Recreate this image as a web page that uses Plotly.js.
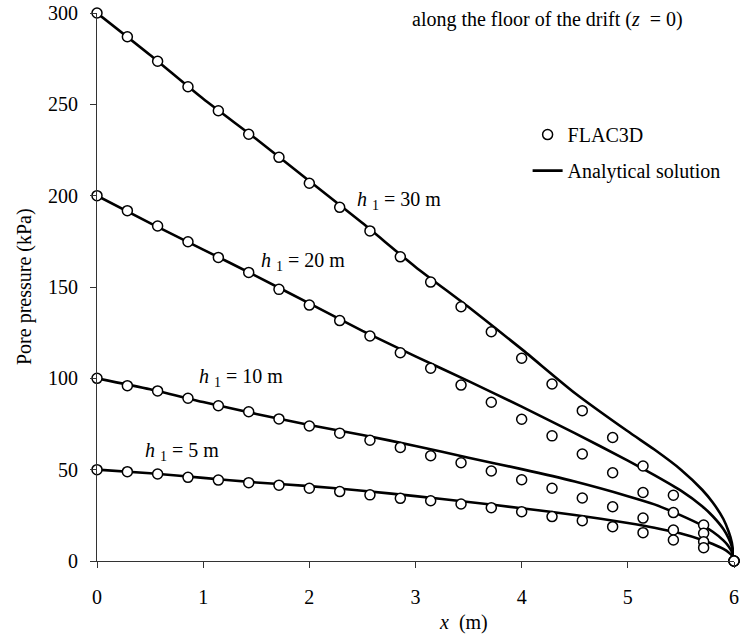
<!DOCTYPE html>
<html>
<head>
<meta charset="utf-8">
<script src="https://cdn.plot.ly/plotly-3.0.1.min.js"></script>
<style>html,body{margin:0;padding:0;background:#fff;}#chart{width:741px;height:636px;}</style>
</head>
<body>
<div id="chart"></div>
<script>
// FLAC3D sample positions (m)
var xFlac = [0, 0.286, 0.571, 0.857, 1.143, 1.429, 1.714, 2.0, 2.286, 2.571, 2.857,
             3.143, 3.429, 3.714, 4.0, 4.286, 4.571, 4.857, 5.143, 5.429, 5.714, 6.0];
// FLAC3D pore pressure (kPa)
var flacH30 = [300, 287, 273.6, 259.6, 246.5, 233.6, 221, 206.8, 193.6, 180.7, 166.5,
               152.7, 139.2, 125.5, 111, 96.9, 82.3, 67.6, 52, 36, 19.7, 0];
var flacH20 = [200, 191.8, 183.4, 174.8, 166.2, 158, 148.7, 140.1, 131.6, 123.2, 114,
               105.5, 96.3, 86.9, 77.6, 68.5, 58.6, 48.3, 37.5, 26.5, 15.2, 0];
var flacH10 = [100, 96, 93.1, 89.1, 85, 81.7, 77.8, 73.9, 70, 66.1, 62.2,
               57.6, 53.8, 49.3, 44.5, 39.8, 34.5, 29.7, 23.5, 17, 10.6, 0];
var flacH5  = [50, 48.9, 47.6, 45.8, 44.3, 42.9, 41.5, 39.8, 38, 36.2, 34.3,
               33, 31.2, 29.2, 27, 24.3, 22.1, 18.8, 15.5, 11.5, 7.3, 0];

// Analytical solution read positions (m)
var xAna = [0, 0.5, 1, 1.5, 2, 2.5, 3, 3.5, 4, 4.5, 5, 5.25, 5.5, 5.7, 5.8, 5.9, 5.95, 5.98, 6];
var anaH30 = [300, 277, 253, 231, 208, 185, 161, 139, 116, 92, 71, 61, 50, 39, 32, 23, 16, 10, 0];
var anaH20 = [200, 185, 170.5, 156, 141, 126, 112, 98.5, 84.5, 70, 55, 47, 38.5, 30, 24.5, 17.5, 12.3, 7.8, 0];
var anaH10 = [100, 94, 87, 80.5, 74.5, 69, 63, 56.5, 50.3, 43.5, 35.5, 31, 25, 19.5, 16, 11.3, 8, 5, 0];
var anaH5  = [50, 48, 45.5, 43, 41, 38.5, 35.5, 32.3, 28.9, 25.2, 20.8, 18.2, 15, 11.5, 9.3, 6.6, 4.7, 3, 0];

var xTicks = [0, 1, 2, 3, 4, 5, 6];
var yTicks = [0, 50, 100, 150, 200, 250, 300];
var curveLabels = ['<i>h</i> <sub>1</sub> = 30 m', '<i>h</i> <sub>1</sub> = 20 m',
                   '<i>h</i> <sub>1</sub> = 10 m', '<i>h</i> <sub>1</sub> = 5 m'];

var FONT = '"Liberation Serif", "Times New Roman", serif';

var anaSets = [anaH30, anaH20, anaH10, anaH5];
var flacSets = [flacH30, flacH20, flacH10, flacH5];
var traces = [];
anaSets.forEach(function (ys, k) {
  traces.push({
    x: xAna, y: ys, type: 'scatter', mode: 'lines',
    line: {color: '#000', width: 2.6, shape: 'spline', smoothing: 0.6},
    name: 'Analytical solution', legendgroup: 'ana', legendrank: 2,
    showlegend: k === 0, cliponaxis: false, hoverinfo: 'skip'
  });
});
flacSets.forEach(function (ys, k) {
  traces.push({
    x: xFlac, y: ys, type: 'scatter', mode: 'markers',
    marker: {symbol: 'circle', size: 10, color: '#fff', line: {color: '#000', width: 1.5}},
    name: 'FLAC3D', legendgroup: 'flac', legendrank: 1,
    showlegend: k === 0, cliponaxis: false, hoverinfo: 'skip'
  });
});

var labelPos = [[2.43, 197.6], [1.53, 164.2], [0.94, 100.2], [0.43, 59.7]];
var annotations = curveLabels.map(function (t, k) {
  return {x: labelPos[k][0], y: labelPos[k][1], xref: 'x', yref: 'y', text: t,
          showarrow: false, xanchor: 'left', yanchor: 'middle',
          font: {family: FONT, size: 20, color: '#000'}};
});
annotations.push({
  xref: 'paper', yref: 'paper', x: 0.708, y: 1.0, yanchor: 'middle', xanchor: 'center',
  yshift: -6, showarrow: false,
  text: 'along the floor of the drift (<i>z</i>  = 0)',
  font: {family: FONT, size: 20, color: '#000'}
});
annotations.push({
  xref: 'paper', yref: 'paper', x: 0.576, y: 0, yshift: -61, xanchor: 'center', yanchor: 'middle',
  showarrow: false, text: '<i>x</i>  (m)', font: {family: FONT, size: 20, color: '#000'}
});
annotations.push({
  xref: 'paper', yref: 'paper', x: 0, xshift: -73, y: 0.5, xanchor: 'center', yanchor: 'middle',
  textangle: -90, showarrow: false, text: 'Pore pressure (kPa)',
  font: {family: FONT, size: 20, color: '#000'}
});

var layout = {
  width: 741, height: 636,
  margin: {l: 97, r: 7, t: 13, b: 75},
  paper_bgcolor: '#fff', plot_bgcolor: '#fff',
  font: {family: FONT, size: 20, color: '#000'},
  showlegend: true,
  legend: {x: 0.676, y: 0.8137, xanchor: 'left', yanchor: 'top', bgcolor: 'rgba(0,0,0,0)',
           font: {family: FONT, size: 20, color: '#000'}, tracegroupgap: 7,
           traceorder: 'grouped'},
  xaxis: {range: [0, 6], tickvals: xTicks, ticktext: xTicks.map(String),
          showgrid: false, zeroline: false, showline: true, linecolor: '#333', linewidth: 1,
          ticks: 'outside', ticklen: 6, tickcolor: '#333', ticklabelstandoff: 12,
          tickfont: {family: FONT, size: 20, color: '#000'}},
  yaxis: {range: [0, 300], tickvals: yTicks, ticktext: yTicks.map(String),
          showgrid: false, zeroline: false, showline: true, linecolor: '#333', linewidth: 1,
          ticks: 'outside', ticklen: 6, tickcolor: '#333', ticklabelstandoff: 8,
          tickfont: {family: FONT, size: 20, color: '#000'}},
  annotations: annotations
};

Plotly.newPlot('chart', traces, layout, {displayModeBar: false, staticPlot: true});
</script>
</body>
</html>
